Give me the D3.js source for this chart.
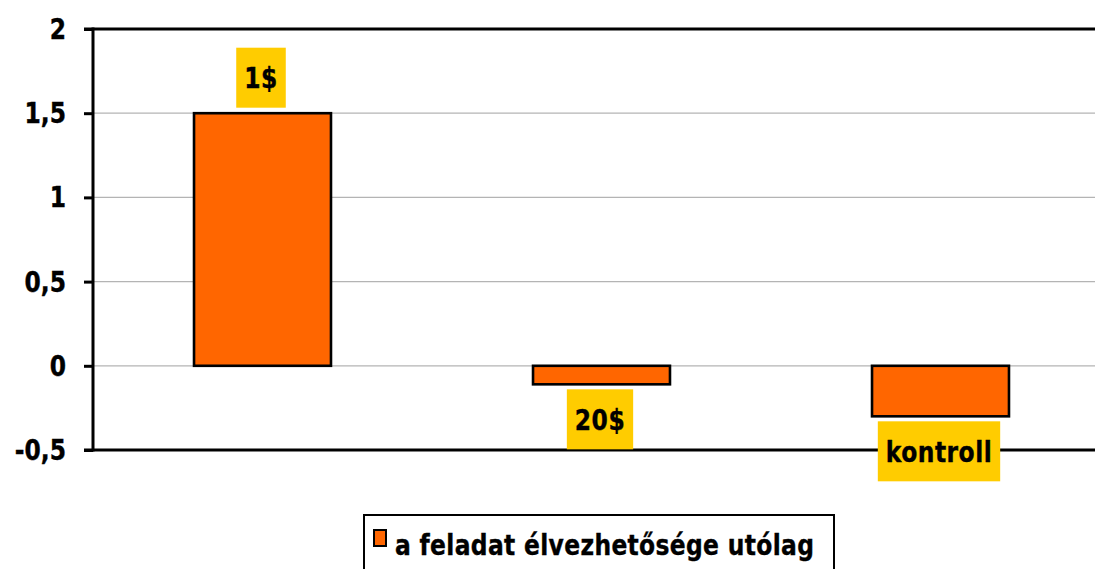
<!DOCTYPE html>
<html>
<head>
<meta charset="utf-8">
<script src="https://cdn.jsdelivr.net/npm/d3@7"></script>
<style>
  html, body { margin: 0; padding: 0; background: #fff; }
  svg { display: block; }
  text { font-family: "DejaVu Sans Condensed", "DejaVu Sans", sans-serif; font-stretch: condensed; font-weight: bold; fill: #000; stroke: #000; stroke-width: 0.35px; }
</style>
</head>
<body>
<svg id="chart" width="1095" height="569"></svg>
<script>
const categories = ["1$", "20$", "kontroll"];
const values = [1.5, -0.11, -0.3];
const seriesName = "a feladat élvezhetősége utólag";
const yTicks = [-0.5, 0, 0.5, 1, 1.5, 2];
const yTickLabels = ["-0,5", "0", "0,5", "1", "1,5", "2"];

const W = 1095, H = 569;
const SY = 1.12; // vertical stretch of glyphs
const plot = { left: 93, right: 1110, top: 29, bottom: 450 };
const svg = d3.select("#chart");
svg.append("rect").attr("width", W).attr("height", H).attr("fill", "#fff");

const y = d3.scaleLinear().domain([-0.5, 2]).range([plot.bottom, plot.top]);
const x = d3.scaleBand().domain(categories).range([plot.left, plot.right])
  .paddingInner(0.596).paddingOuter(0.298);

// gridlines
svg.append("g").selectAll("line").data(yTicks.filter(t => t !== -0.5 && t !== 2)).join("line")
  .attr("x1", plot.left).attr("x2", W)
  .attr("y1", d => y(d)).attr("y2", d => y(d))
  .attr("stroke", "#b4b4b4").attr("stroke-width", 1.2);

// top & bottom heavy lines
[2, -0.5].forEach(v => {
  svg.append("line").attr("x1", plot.left - 9).attr("x2", W)
    .attr("y1", y(v)).attr("y2", y(v))
    .attr("stroke", "#000").attr("stroke-width", 3);
});

// y axis
const yAxis = d3.axisLeft(y).tickValues(yTicks)
  .tickFormat(d => yTickLabels[yTicks.indexOf(d)])
  .tickSize(9).tickPadding(18);
const ga = svg.append("g").attr("transform", `translate(${plot.left},0)`).call(yAxis);
ga.select(".domain").attr("stroke", "#000").attr("stroke-width", 3)
  .attr("d", `M0,${plot.top - 1.5}V${plot.bottom + 1.5}`);
ga.selectAll(".tick line").attr("stroke", "#000").attr("stroke-width", 3);
ga.selectAll(".tick text").attr("font-size", 26)
  .style("font-family", '"DejaVu Sans Condensed", "DejaVu Sans", sans-serif')
  .style("font-weight", "bold").attr("fill", "#000")
  .attr("dy", null).attr("y", 8.5)
  .attr("transform", `scale(1,${SY})`);

// bars
svg.append("g").selectAll("rect").data(categories).join("rect")
  .attr("x", d => x(d))
  .attr("width", x.bandwidth())
  .attr("y", (d, i) => y(Math.max(0, values[i])))
  .attr("height", (d, i) => Math.abs(y(values[i]) - y(0)))
  .attr("fill", "#ff6600").attr("stroke", "#000").attr("stroke-width", 2.6);

// category labels in yellow boxes
const lab = svg.append("g");
categories.forEach((c, i) => {
  const v = values[i];
  const cx = x(c) + x.bandwidth() / 2 - 1.5;
  const boxH = 60;
  const boxTop = v >= 0 ? y(v) - 5.5 - boxH : y(v) + 5;
  const g = lab.append("g");
  const r = g.append("rect").attr("fill", "#ffcc00");
  const t = g.append("text").text(c).attr("font-size", 26)
    .attr("text-anchor", "middle")
    .attr("transform", `translate(${cx},${boxTop + boxH / 2 + 10.5}) scale(1,${SY})`)
    .attr("letter-spacing", 0.5);
  const bw = t.node().getComputedTextLength() + 16;
  r.attr("x", cx - bw / 2).attr("y", boxTop).attr("width", bw).attr("height", boxH);
});

// legend
const lg = svg.append("g");
lg.append("rect").attr("x", 364).attr("y", 515).attr("width", 470).attr("height", 80)
  .attr("fill", "#fff").attr("stroke", "#000").attr("stroke-width", 2);
lg.append("rect").attr("x", 374).attr("y", 530).attr("width", 12).attr("height", 16)
  .attr("fill", "#ff6600").attr("stroke", "#000").attr("stroke-width", 2);
lg.append("text").text(seriesName).attr("font-size", 26)
  .attr("letter-spacing", 0.35)
  .attr("transform", `translate(395,555) scale(1,${SY})`);
</script>
</body>
</html>
